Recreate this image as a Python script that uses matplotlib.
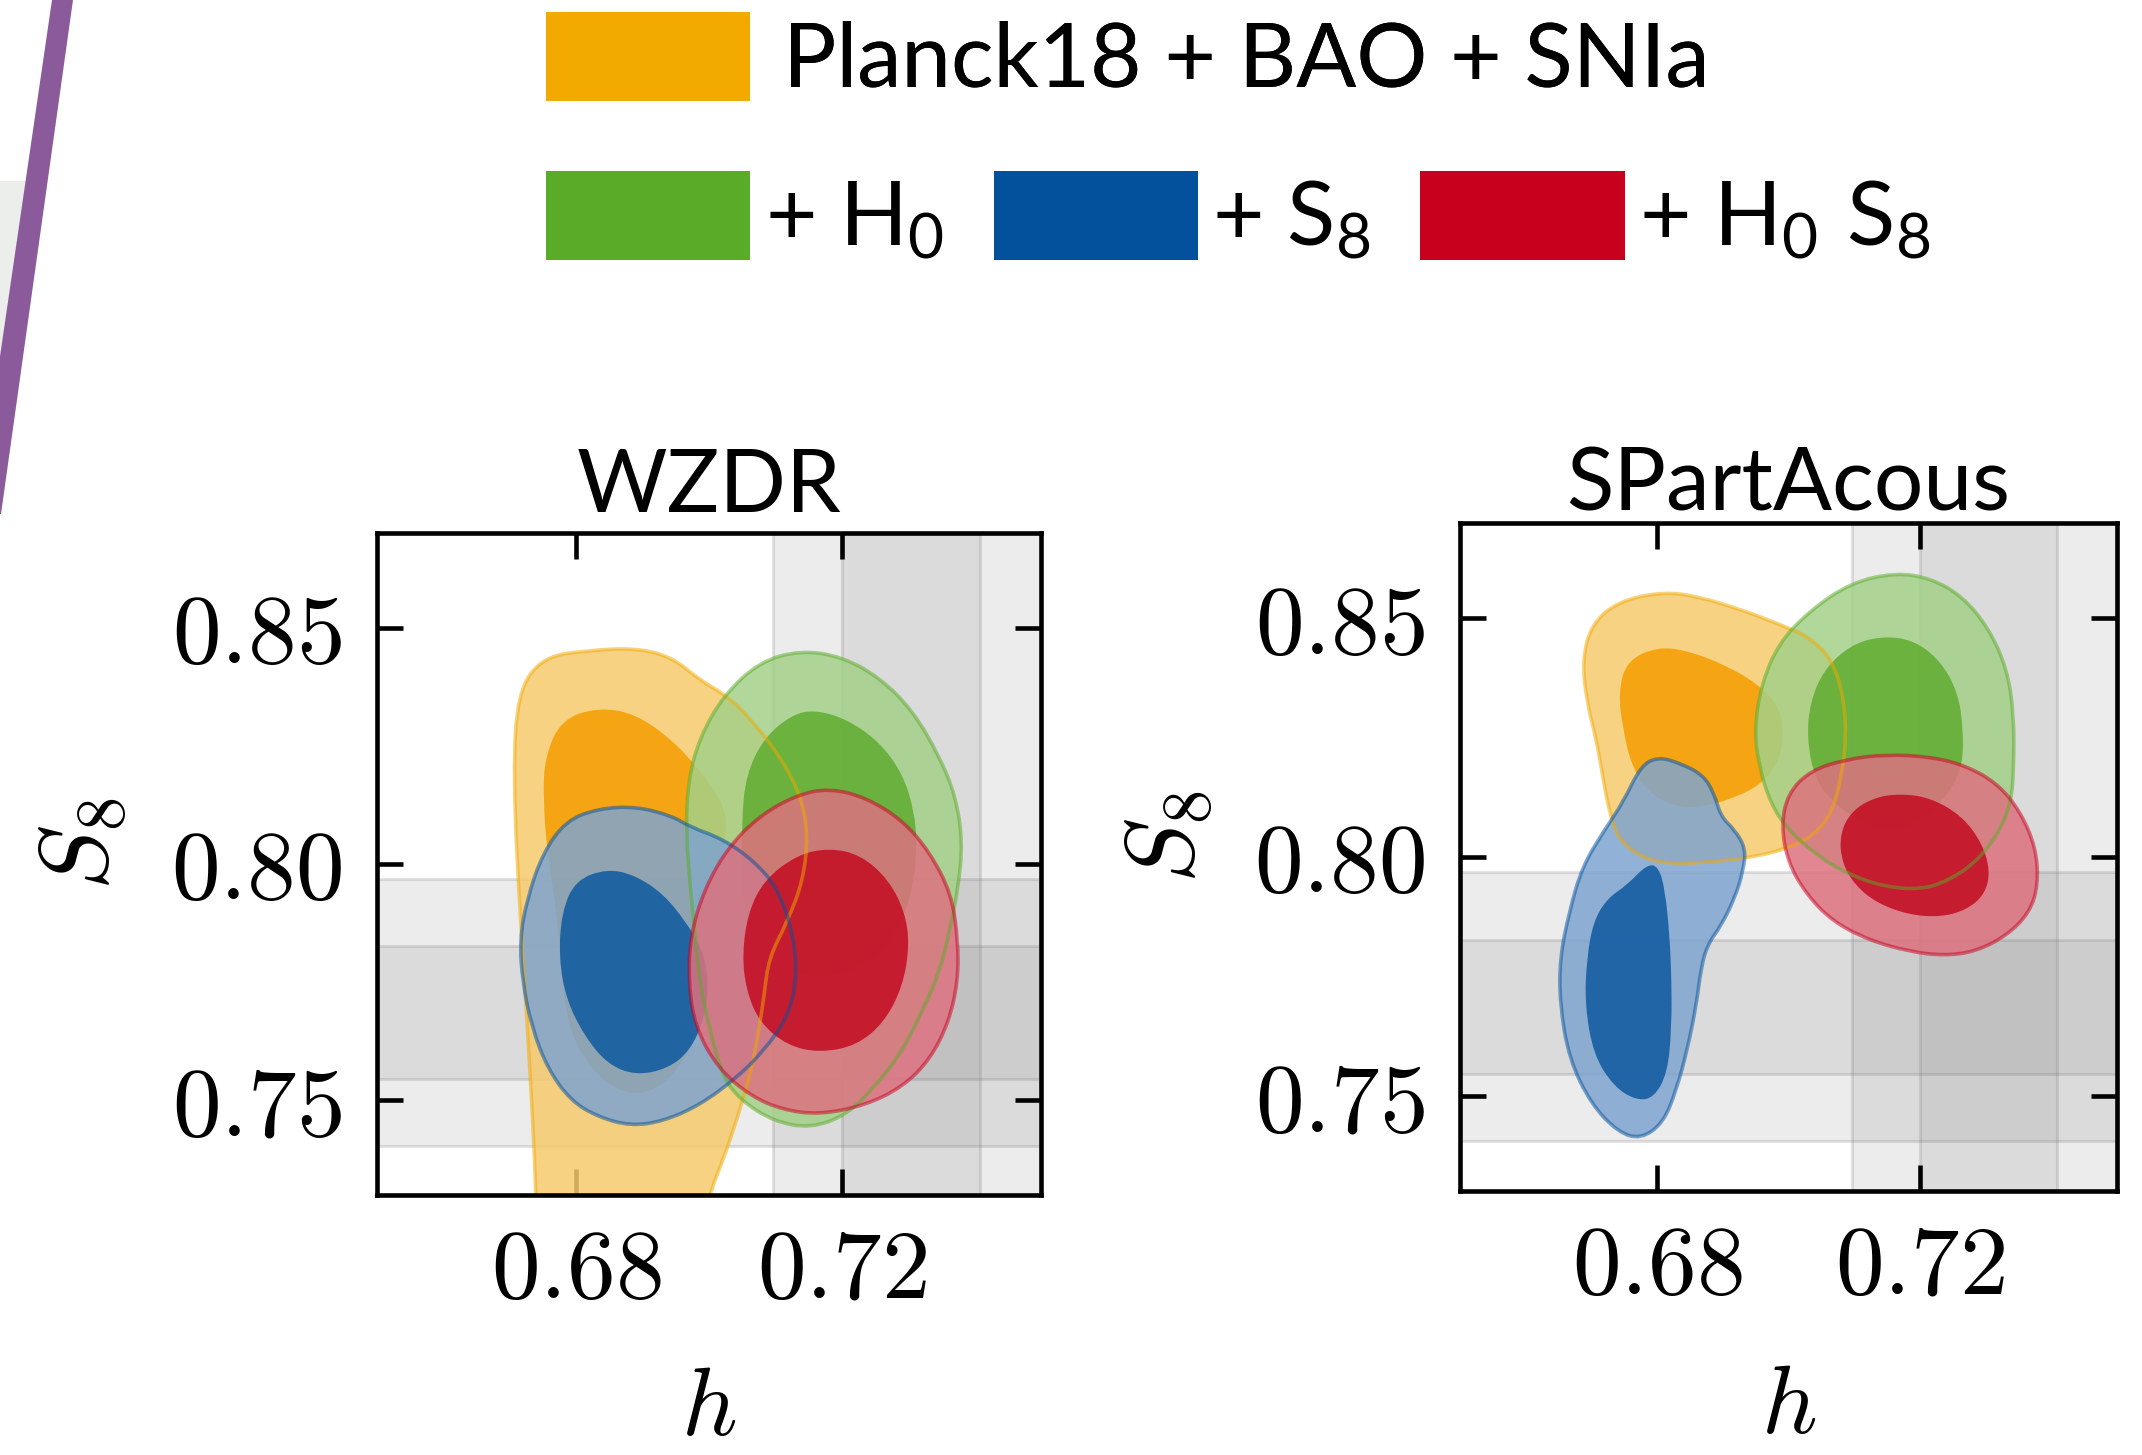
import numpy as np
import matplotlib
matplotlib.use("Agg")
import matplotlib.pyplot as plt
from matplotlib.path import Path
from matplotlib.patches import PathPatch, Patch, Polygon
from matplotlib.ticker import FixedLocator, FuncFormatter

plt.rcParams["mathtext.fontset"] = "cm"
plt.rcParams["font.family"] = ["Lato", "DejaVu Sans"]

# ---------------- data ----------------
panel_titles = ["WZDR", "SPartAcous"]
dataset_labels = ["Planck18 + BAO + SNIa", r"+ $\mathregular{H_0}$",
                  r"+ $\mathregular{S_8}$", r"+ $\mathregular{H_0\ S_8}$"]
dataset_colors = ["#F2A900", "#5AAB27", "#03509C", "#C8001E"]
x_ticks = [0.68, 0.72]
y_ticks = [0.75, 0.80, 0.85]
h_range = (0.65, 0.75)
s8_range = (0.73, 0.87)
h_measurement = (0.7304, 0.0104)     # mean, sigma
s8_measurement = (0.7686, 0.0141)    # mean, sigma

# contour outlines, (h, S8) pairs -- WZDR
wzdr_base_2sig = [(0.6740, 0.7200), (0.6740, 0.7300), (0.6729, 0.7606), (0.6715, 0.7898),
                  (0.6705, 0.8190), (0.6712, 0.8365), (0.6750, 0.8438), (0.6819, 0.8452),
                  (0.6889, 0.8457), (0.6944, 0.8438), (0.6986, 0.8389), (0.7028, 0.8355),
                  (0.7069, 0.8297), (0.7111, 0.8219), (0.7139, 0.8141), (0.7149, 0.8063),
                  (0.7142, 0.7966), (0.7118, 0.7878), (0.7090, 0.7801), (0.7083, 0.7723),
                  (0.7076, 0.7655), (0.7063, 0.7558), (0.7042, 0.7460), (0.7021, 0.7373),
                  (0.7000, 0.7300), (0.6990, 0.7200), (0.6980, 0.7000), (0.6750, 0.7000)]
wzdr_base_1sig = [(0.6833, 0.8331), (0.6889, 0.8318), (0.6944, 0.8263), (0.6986, 0.8199),
                  (0.7021, 0.8131), (0.7028, 0.8073), (0.7014, 0.7995), (0.7007, 0.7898),
                  (0.7007, 0.7801), (0.7000, 0.7703), (0.6972, 0.7606), (0.6931, 0.7529),
                  (0.6882, 0.7509), (0.6833, 0.7548), (0.6792, 0.7635), (0.6778, 0.7752),
                  (0.6771, 0.7898), (0.6757, 0.8015), (0.6750, 0.8141), (0.6753, 0.8228),
                  (0.6778, 0.8306)]
wzdr_h0_2sig = [(0.7139, 0.8452), (0.7201, 0.8438), (0.7257, 0.8394), (0.7306, 0.8326),
                (0.7347, 0.8228), (0.7372, 0.8141), (0.7382, 0.8044), (0.7375, 0.7947),
                (0.7361, 0.7849), (0.7347, 0.7772), (0.7326, 0.7703), (0.7292, 0.7606),
                (0.7250, 0.7529), (0.7208, 0.7470), (0.7153, 0.7441), (0.7097, 0.7456),
                (0.7049, 0.7499), (0.7021, 0.7548), (0.7000, 0.7655), (0.6986, 0.7752),
                (0.6979, 0.7849), (0.6972, 0.7947), (0.6965, 0.8073), (0.6969, 0.8180),
                (0.6986, 0.8267), (0.7021, 0.8355), (0.7076, 0.8428)]
wzdr_h0_1sig = [(0.7160, 0.8326), (0.7208, 0.8306), (0.7257, 0.8258), (0.7292, 0.8190),
                (0.7309, 0.8112), (0.7313, 0.8044), (0.7309, 0.7966), (0.7292, 0.7878),
                (0.7250, 0.7801), (0.7194, 0.7762), (0.7139, 0.7762), (0.7083, 0.7810),
                (0.7049, 0.7898), (0.7049, 0.8092), (0.7056, 0.8190), (0.7083, 0.8267),
                (0.7125, 0.8316)]
wzdr_s8_2sig = [(0.6833, 0.8117), (0.6889, 0.8122), (0.6944, 0.8102), (0.6972, 0.8078),
                (0.7021, 0.8053), (0.7069, 0.8005), (0.7104, 0.7947), (0.7128, 0.7849),
                (0.7132, 0.7752), (0.7118, 0.7674), (0.7083, 0.7606), (0.7042, 0.7548),
                (0.6986, 0.7490), (0.6931, 0.7456), (0.6882, 0.7446), (0.6833, 0.7465),
                (0.6792, 0.7499), (0.6757, 0.7567), (0.6733, 0.7655), (0.6719, 0.7752),
                (0.6715, 0.7840), (0.6726, 0.7927), (0.6750, 0.8024), (0.6785, 0.8092)]
wzdr_s8_1sig = [(0.6847, 0.7990), (0.6889, 0.7976), (0.6931, 0.7937), (0.6965, 0.7878),
                (0.6990, 0.7820), (0.7000, 0.7752), (0.6993, 0.7674), (0.6972, 0.7606),
                (0.6938, 0.7567), (0.6889, 0.7553), (0.6847, 0.7577), (0.6813, 0.7635),
                (0.6785, 0.7713), (0.6774, 0.7801), (0.6778, 0.7898), (0.6799, 0.7966)]
wzdr_h0s8_2sig = [(0.7181, 0.8160), (0.7236, 0.8141), (0.7292, 0.8092), (0.7333, 0.8024),
                  (0.7365, 0.7937), (0.7375, 0.7840), (0.7375, 0.7752), (0.7361, 0.7665),
                  (0.7333, 0.7587), (0.7292, 0.7529), (0.7236, 0.7490), (0.7167, 0.7470),
                  (0.7111, 0.7480), (0.7063, 0.7509), (0.7014, 0.7567), (0.6979, 0.7655),
                  (0.6969, 0.7752), (0.6972, 0.7849), (0.6993, 0.7947), (0.7028, 0.8034),
                  (0.7076, 0.8102), (0.7132, 0.8146)]
wzdr_h0s8_1sig = [(0.7181, 0.8034), (0.7229, 0.8019), (0.7271, 0.7966), (0.7295, 0.7898),
                  (0.7302, 0.7830), (0.7292, 0.7742), (0.7264, 0.7665), (0.7222, 0.7616),
                  (0.7167, 0.7601), (0.7118, 0.7616), (0.7076, 0.7665), (0.7056, 0.7733),
                  (0.7050, 0.7810), (0.7059, 0.7898), (0.7083, 0.7966), (0.7132, 0.8019)]

# contour outlines, (h, S8) pairs -- SPartAcous
spa_base_2sig = [(0.6809, 0.8556), (0.6863, 0.8546), (0.6931, 0.8517), (0.6986, 0.8488),
                 (0.7033, 0.8460), (0.7067, 0.8412), (0.7084, 0.8335), (0.7088, 0.8249),
                 (0.7081, 0.8172), (0.7067, 0.8095), (0.7040, 0.8047), (0.6999, 0.8018),
                 (0.6945, 0.7999), (0.6877, 0.7989), (0.6822, 0.7985), (0.6775, 0.7999),
                 (0.6741, 0.8037), (0.6727, 0.8095), (0.6717, 0.8172), (0.6707, 0.8249),
                 (0.6693, 0.8325), (0.6686, 0.8412), (0.6700, 0.8488), (0.6741, 0.8536)]
spa_base_1sig = [(0.6802, 0.8441), (0.6850, 0.8431), (0.6904, 0.8402), (0.6952, 0.8364),
                 (0.6986, 0.8316), (0.6993, 0.8258), (0.6986, 0.8201), (0.6959, 0.8153),
                 (0.6918, 0.8124), (0.6870, 0.8105), (0.6829, 0.8105), (0.6788, 0.8133),
                 (0.6761, 0.8191), (0.6748, 0.8268), (0.6741, 0.8345), (0.6754, 0.8412)]
spa_h0_2sig = [(0.7163, 0.8596), (0.7217, 0.8584), (0.7265, 0.8546), (0.7305, 0.8479),
               (0.7333, 0.8393), (0.7343, 0.8297), (0.7343, 0.8191), (0.7339, 0.8114),
               (0.7319, 0.8047), (0.7285, 0.7989), (0.7244, 0.7951), (0.7203, 0.7932),
               (0.7149, 0.7937), (0.7095, 0.7961), (0.7047, 0.7999), (0.6999, 0.8057),
               (0.6972, 0.8114), (0.6955, 0.8191), (0.6948, 0.8268), (0.6959, 0.8364),
               (0.6986, 0.8450), (0.7033, 0.8517), (0.7095, 0.8575)]
spa_h0_1sig = [(0.7142, 0.8463), (0.7190, 0.8455), (0.7231, 0.8412), (0.7258, 0.8345),
               (0.7266, 0.8268), (0.7265, 0.8191), (0.7244, 0.8133), (0.7210, 0.8085),
               (0.7169, 0.8057), (0.7122, 0.8066), (0.7074, 0.8105), (0.7040, 0.8162),
               (0.7028, 0.8249), (0.7033, 0.8325), (0.7054, 0.8393), (0.7095, 0.8445)]
spa_s8_2sig = [(0.6802, 0.8210), (0.6836, 0.8196), (0.6870, 0.8172), (0.6887, 0.8133),
               (0.6897, 0.8085), (0.6918, 0.8057), (0.6935, 0.8018), (0.6931, 0.7970),
               (0.6918, 0.7913), (0.6897, 0.7855), (0.6877, 0.7817), (0.6867, 0.7769),
               (0.6860, 0.7692), (0.6846, 0.7596), (0.6829, 0.7510), (0.6809, 0.7442),
               (0.6775, 0.7409), (0.6741, 0.7423), (0.6700, 0.7481), (0.6666, 0.7577),
               (0.6652, 0.7692), (0.6652, 0.7788), (0.6666, 0.7884), (0.6686, 0.7980),
               (0.6720, 0.8057), (0.6748, 0.8114), (0.6775, 0.8191)]
spa_s8_1sig = [(0.6785, 0.7985), (0.6802, 0.7980), (0.6812, 0.7932), (0.6819, 0.7836),
               (0.6822, 0.7740), (0.6822, 0.7644), (0.6816, 0.7548), (0.6795, 0.7495),
               (0.6768, 0.7490), (0.6734, 0.7519), (0.6703, 0.7586), (0.6690, 0.7692),
               (0.6693, 0.7788), (0.6703, 0.7865), (0.6724, 0.7913), (0.6754, 0.7941)]
spa_h0s8_2sig = [(0.7149, 0.8215), (0.7217, 0.8210), (0.7271, 0.8191), (0.7319, 0.8153),
                 (0.7353, 0.8095), (0.7377, 0.8018), (0.7380, 0.7941), (0.7367, 0.7884),
                 (0.7333, 0.7836), (0.7285, 0.7802), (0.7237, 0.7793), (0.7183, 0.7802),
                 (0.7122, 0.7826), (0.7067, 0.7865), (0.7027, 0.7922), (0.6999, 0.7989),
                 (0.6989, 0.8066), (0.6999, 0.8133), (0.7033, 0.8181), (0.7088, 0.8205)]
spa_h0s8_1sig = [(0.7169, 0.8133), (0.7217, 0.8124), (0.7265, 0.8085), (0.7295, 0.8028),
                 (0.7307, 0.7970), (0.7299, 0.7922), (0.7271, 0.7889), (0.7231, 0.7874),
                 (0.7183, 0.7879), (0.7135, 0.7903), (0.7101, 0.7941), (0.7081, 0.7989),
                 (0.7078, 0.8047), (0.7095, 0.8095), (0.7129, 0.8124)]

panel_contours = [
    [(wzdr_base_2sig, wzdr_base_1sig), (wzdr_h0_2sig, wzdr_h0_1sig),
     (wzdr_s8_2sig, wzdr_s8_1sig), (wzdr_h0s8_2sig, wzdr_h0s8_1sig)],
    [(spa_base_2sig, spa_base_1sig), (spa_h0_2sig, spa_h0_1sig),
     (spa_s8_2sig, spa_s8_1sig), (spa_h0s8_2sig, spa_h0s8_1sig)],
]

# ---------------- styles ----------------
outer_fill_colors = ["#F6CA6C", "#A4D089", "#7EA4CF", "#DD727F"]
inner_fill_colors = ["#F59E00", "#60AC30", "#0E59A0", "#C30B21"]
fill_alpha = 0.85


def smooth_closed_path(points):
    """Closed quadratic B-spline through the midpoints of the outline."""
    p = np.asarray(points, float)
    mids = (p + np.roll(p, -1, axis=0)) / 2.0
    verts = [mids[-1]]
    codes = [Path.MOVETO]
    for i in range(len(p)):
        verts += [p[i], mids[i]]
        codes += [Path.CURVE3, Path.CURVE3]
    verts.append(mids[-1])
    codes.append(Path.CLOSEPOLY)
    return Path(verts, codes)


W, H = 2142, 1455
fig = plt.figure(figsize=(W / 100, H / 100), dpi=100)

# slide decoration at top-left
fig.add_artist(Polygon([(0 / W, 1 - 181 / H), (26 / W, 1 - 181 / H), (0 / W, 1 - 357 / H)],
                       closed=True, transform=fig.transFigure,
                       facecolor="#ECEEEC", edgecolor="none"))
fig.add_artist(Polygon([(52 / W, 1.0), (73 / W, 1.0), (1 / W, 1 - 514 / H), (-23 / W, 1 - 514 / H)],
                       closed=True, transform=fig.transFigure,
                       facecolor="#8B5A9B", edgecolor="none"))

axes_rects = [
    [377 / W, 1 - 1195 / H, (1041 - 377) / W, (1195 - 533) / H],
    [1460 / W, 1 - 1191 / H, (2117 - 1460) / W, (1191 - 523) / H],
]
title_pads = [15, 9]

band_face = (0.5, 0.5, 0.5, 0.15)
band_edge = (0.45, 0.45, 0.45, 0.2)

for k in range(2):
    ax = fig.add_axes(axes_rects[k])
    ax.set_xlim(*h_range)
    ax.set_ylim(*s8_range)

    hm, hs = h_measurement
    sm, ss = s8_measurement
    for nsig in (2, 1):
        ax.axvspan(hm - nsig * hs, hm + nsig * hs, facecolor=band_face,
                   edgecolor=band_edge, lw=2.2, zorder=0.5)
        ax.axhspan(sm - nsig * ss, sm + nsig * ss, facecolor=band_face,
                   edgecolor=band_edge, lw=2.2, zorder=0.5)

    # fills
    for j, (outer, inner) in enumerate(panel_contours[k]):
        ax.add_patch(PathPatch(smooth_closed_path(outer), facecolor=outer_fill_colors[j],
                               edgecolor="none", alpha=fill_alpha, zorder=2))
        ax.add_patch(PathPatch(smooth_closed_path(inner), facecolor=inner_fill_colors[j],
                               edgecolor="none", alpha=fill_alpha, zorder=2))
    # outlines
    for j, (outer, inner) in enumerate(panel_contours[k]):
        ax.add_patch(PathPatch(smooth_closed_path(outer), facecolor="none",
                               edgecolor=dataset_colors[j], alpha=0.5, lw=2.6, zorder=3))

    ax.xaxis.set_major_locator(FixedLocator(x_ticks))
    ax.yaxis.set_major_locator(FixedLocator(y_ticks))
    fmt = FuncFormatter(lambda v, pos: r"$%.2f$" % v)
    ax.xaxis.set_major_formatter(fmt)
    ax.yaxis.set_major_formatter(fmt)
    ax.tick_params(which="major", direction="in", length=19, width=3.3,
                   top=True, right=True, labelsize=70, pad=25, zorder=5)
    ax.tick_params(axis="x", pad=23)
    for sp in ax.spines.values():
        sp.set_linewidth(3.3)
        sp.set_zorder(6)

    ax.set_xlabel(r"$h$", fontsize=70)
    ax.xaxis.set_label_coords(0.5, -0.256)
    ax.set_ylabel(r"$S_8$", fontsize=70)
    ax.yaxis.set_label_coords(-0.372, 0.53)
    ax.set_title(panel_titles[k], fontsize=63, pad=title_pads[k])

# legend
handles = [Patch(facecolor=c, edgecolor="none") for c in dataset_colors]
leg1 = fig.legend(handles[:1], dataset_labels[:1], loc="center left",
                  bbox_to_anchor=(546 / W, 1 - 57 / H), frameon=False, fontsize=64,
                  handlelength=2.3, handleheight=1.17, handletextpad=0.37,
                  borderpad=0, borderaxespad=0)
fig.add_artist(leg1)
leg2 = fig.legend(handles[1:], dataset_labels[1:], loc="center left",
                  bbox_to_anchor=(546 / W, 1 - 216 / H), frameon=False, fontsize=64,
                  ncol=3, handlelength=2.3, handleheight=1.17, handletextpad=0.16,
                  columnspacing=0.56, borderpad=0, borderaxespad=0)

fig.savefig("out.png", dpi=100)
